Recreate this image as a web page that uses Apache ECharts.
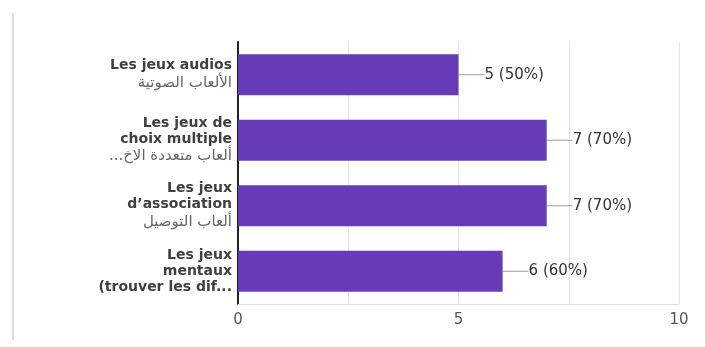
<!DOCTYPE html>
<html>
<head>
<meta charset="utf-8">
<script src="https://cdn.jsdelivr.net/npm/echarts@6/dist/echarts.min.js"></script>
<style>
  html, body { margin: 0; padding: 0; background: #ffffff; }
  #chart { width: 705px; height: 347px; }
</style>
</head>
<body>
<div id="chart"></div>
<script>
// French label lines for each answer (top to bottom)
const frenchLines = [
  ['Les jeux audios'],
  ['Les jeux de', 'choix multiple'],
  ['Les jeux', 'd\u2019association'],
  ['Les jeux', 'mentaux', '(trouver les dif...']
];
// Arabic subtitle for each answer
const arabicLines = [
  'الألعاب الصوتية',
  '...ألعاب متعددة الاخ',
  'ألعاب التوصيل',
  ''
];
// Number of respondents choosing each answer
const counts = [5, 7, 7, 6];
// Total respondents
const totalRespondents = 10;
// Value axis tick labels
const tickLabels = { 0: '0', 5: '5', 10: '10' };

const categories = frenchLines.map((lines, i) => {
  const parts = lines.map(l => '{fr|' + l + '}');
  if (arabicLines[i]) parts.push('{ar|' + arabicLines[i] + '}');
  return parts.join('\n');
});

const chart = echarts.init(document.getElementById('chart'));
chart.setOption({
  animation: false,
  textStyle: { fontFamily: 'DejaVu Sans' },
  graphic: [{
    type: 'line',
    shape: { x1: 13, y1: 13, x2: 13, y2: 340 },
    style: { stroke: '#dcdcdc', lineWidth: 2 }
  }],
  grid: { left: 238, right: 26, top: 42, bottom: 43 },
  xAxis: {
    type: 'value',
    min: 0,
    max: 10,
    interval: 2.5,
    axisLine: { show: true, lineStyle: { color: '#e0e0e0' } },
    axisTick: { show: false },
    splitLine: { show: true, lineStyle: { color: '#e6e6e6', width: 1 } },
    axisLabel: {
      color: '#555',
      fontSize: 15,
      margin: 9,
      formatter: v => tickLabels[v] !== undefined ? tickLabels[v] : ''
    }
  },
  yAxis: {
    type: 'category',
    inverse: true,
    data: categories,
    axisLine: { show: true, lineStyle: { color: '#222', width: 2 } },
    axisTick: { show: false },
    axisLabel: {
      margin: 6,
      align: 'right',
      rich: {
        fr: { fontFamily: 'DejaVu Sans', fontSize: 14, fontWeight: 'bold', color: '#404040', lineHeight: 16, align: 'right' },
        ar: { fontFamily: 'DejaVu Sans', fontSize: 15, color: '#666', lineHeight: 18, align: 'right' }
      }
    }
  },
  series: [{
    type: 'bar',
    data: counts,
    barWidth: 41,
    itemStyle: { color: '#673ab7' },
    label: {
      show: true,
      position: 'right',
      distance: 0,
      color: '#333',
      fontSize: 15,
      fontFamily: 'DejaVu Sans',
      formatter: p => p.value + ' (' + Math.round(p.value / totalRespondents * 100) + '%)'
    },
    labelLayout: { dx: 26 },
    labelLine: { show: true, lineStyle: { color: '#9e9e9e', width: 1 } }
  }]
});
</script>
</body>
</html>
